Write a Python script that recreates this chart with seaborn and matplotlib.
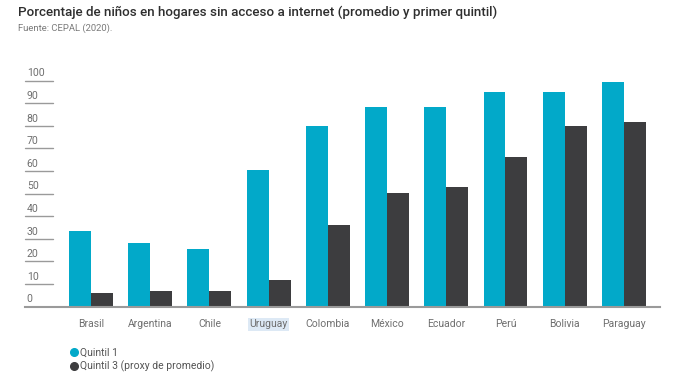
import pandas as pd
import matplotlib.pyplot as plt
import seaborn as sns
from matplotlib.lines import Line2D

# Données
paises = ['Brasil', 'Argentina', 'Chile', 'Uruguay', 'Colombia', 'México',
          'Ecuador', 'Perú', 'Bolivia', 'Paraguay']
quintil_1 = [33.6, 28, 25.4, 60.3, 80.1, 88.5, 88.5, 95.1, 95.1, 99.3]
quintil_3 = [5.9, 6.9, 6.9, 11.7, 36, 50.2, 53.1, 66.4, 80.1, 81.6]
series = ['Quintil 1', 'Quintil 3 (proxy de promedio)']
yticks = [0, 10, 20, 30, 40, 50, 60, 70, 80, 90, 100]

colores = ['#02a9c9', '#3d3d3f']

df = pd.DataFrame({
    'pais': paises * 2,
    'valor': quintil_1 + quintil_3,
    'serie': [series[0]] * len(paises) + [series[1]] * len(paises),
})

sns.set_style('white')
plt.rcParams['font.family'] = ['Roboto', 'DejaVu Sans']

fig = plt.figure(figsize=(6.84, 3.85), dpi=100)
ax = fig.add_axes([0.0365, 0.2034, 0.9284, 0.6164])

sns.barplot(data=df, x='pais', y='valor', hue='serie', palette=colores,
            width=0.74, gap=0, saturation=1, linewidth=0, legend=False, ax=ax)

ax.set_xlim(-1.115, 9.61)
ax.set_ylim(0, 105)
ax.set_xlabel('')
ax.set_ylabel('')
ax.set_yticks([])
for s in ['top', 'right', 'left']:
    ax.spines[s].set_visible(False)
ax.spines['bottom'].set_color('#9a9a9a')
ax.spines['bottom'].set_linewidth(1.5)

# Petites lignes et étiquettes de l'axe y, à l'intérieur du graphique
ytrans = ax.get_yaxis_transform()
for v in yticks:
    if v > 0:
        ax.plot([0, 0.044], [v, v], color='#9a9a9a', lw=1, transform=ytrans,
                clip_on=False)
    ax.text(0.003, v + 1.0, str(v), transform=ytrans, fontsize=7.6,
            color='#6f6f6f', ha='left', va='bottom')

ax.tick_params(axis='x', length=0, pad=9, labelsize=7.5, labelcolor='#6f6f6f')
for lab in ax.get_xticklabels():
    if lab.get_text() == 'Uruguay':
        lab.set_bbox(dict(facecolor='#dde9f5', edgecolor='none', pad=1))

fig.text(0.026, 0.968, 'Porcentaje de niños en hogares sin acceso a internet (promedio y primer quintil)',
         fontsize=9.6, color='#2e2e2e', ha='left', va='center', fontweight='medium')
fig.text(0.026, 0.928, 'Fuente: CEPAL (2020).', fontsize=6.8, color='#7a7a7a',
         ha='left', va='center')

handles = [Line2D([], [], marker='o', linestyle='none', markersize=5.5,
                  markerfacecolor=c, markeredgecolor=c) for c in colores]
fig.legend(handles, series, loc='upper left', bbox_to_anchor=(0.1, 0.097),
           frameon=False, fontsize=7.5, handletextpad=0.15, labelspacing=0.25,
           borderpad=0, borderaxespad=0, handlelength=1.0, labelcolor='#555555')

fig.savefig('out.png', dpi=100)
